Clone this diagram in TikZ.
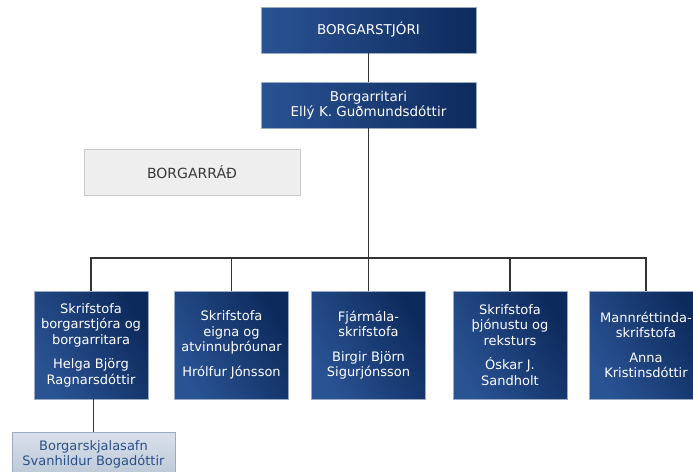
\documentclass[tikz,border=0pt]{standalone}
\usepackage{fontspec}
\setmainfont{DejaVu Sans}
\definecolor{navyL}{HTML}{2A5394}
\definecolor{navyD}{HTML}{0D2A5C}
\definecolor{edgeB}{HTML}{9AABC4}
\definecolor{linec}{HTML}{333333}
\definecolor{grayF}{HTML}{EEEEEE}
\definecolor{grayE}{HTML}{C8C8C8}
\definecolor{grayT}{HTML}{3A3A3A}
\definecolor{archL}{HTML}{D9E0EA}
\definecolor{archD}{HTML}{BCC8D8}
\definecolor{archT}{HTML}{2B4F86}
\begin{document}
\begin{tikzpicture}[x=1pt,y=-1pt,
  topbox/.style={draw=edgeB, line width=0.8pt, left color=navyL, right color=navyD,
    minimum width=215pt, minimum height=46pt, inner sep=0pt, text=white,
    align=center, font=\fontsize{13.5}{15}\selectfont},
  unitbox/.style={draw=edgeB, line width=0.8pt, left color=navyL, right color=navyD, shading angle=120,
    minimum width=114pt, minimum height=108pt, inner sep=0pt, text=white,
    align=center, font=\fontsize{13}{15.5}\selectfont},
  councilbox/.style={draw=grayE, line width=0.8pt, fill=grayF,
    minimum width=216pt, minimum height=46pt, inner sep=0pt, text=grayT,
    font=\fontsize{14}{15}\selectfont},
  archbox/.style={draw=edgeB, line width=0.8pt, top color=archL, bottom color=archD,
    minimum width=163pt, minimum height=44pt, inner sep=0pt, text=archT,
    align=center, font=\fontsize{13}{15}\selectfont},
  conn/.style={draw=linec, line width=1.1pt}]
\clip (0,0) rectangle (693,471);
\fill[white] (0,0) rectangle (693,471);

\node[topbox] (mayor) at (368.5,30) {BORGARSTJÓRI};
\node[topbox] (sec) at (368.5,105) {Borgarritari\\Ellý K. Guðmundsdóttir};
\node[councilbox] (council) at (192,172) {BORGARRÁÐ};

\node[unitbox] (b1) at (91,345) {Skrifstofa\\borgarstjóra og\\borgarritara\\[9pt]Helga Björg\\Ragnarsdóttir};
\node[unitbox] (b2) at (231.5,345) {Skrifstofa\\eigna og\\atvinnuþróunar\\[9pt]Hrólfur Jónsson};
\node[unitbox] (b3) at (368.5,345) {Fjármála-\\skrifstofa\\[9pt]Birgir Björn\\Sigurjónsson};
\node[unitbox] (b4) at (510,345) {Skrifstofa\\þjónustu og\\reksturs\\[9pt]Óskar J.\\Sandholt};
\node[unitbox] (b5) at (646,345) {Mannréttinda-\\skrifstofa\\[9pt]Anna\\Kristinsdóttir};

\node[archbox] (arch) at (93.5,454) {Borgarskjalasafn\\Svanhildur Bogadóttir};

\coordinate (bus) at (368.5,258);
\draw[conn] (mayor) -- (sec);
\draw[conn] (sec.south) -- (b3.north);
\draw[conn] (b1.north) |- (bus);
\draw[conn] (b5.north) |- (bus);
\draw[conn] (b2.north) -- (b2.north |- bus);
\draw[conn] (b4.north) -- (b4.north |- bus);
\draw[conn] (b1.south -| arch.north) -- (arch.north);
\end{tikzpicture}
\end{document}
